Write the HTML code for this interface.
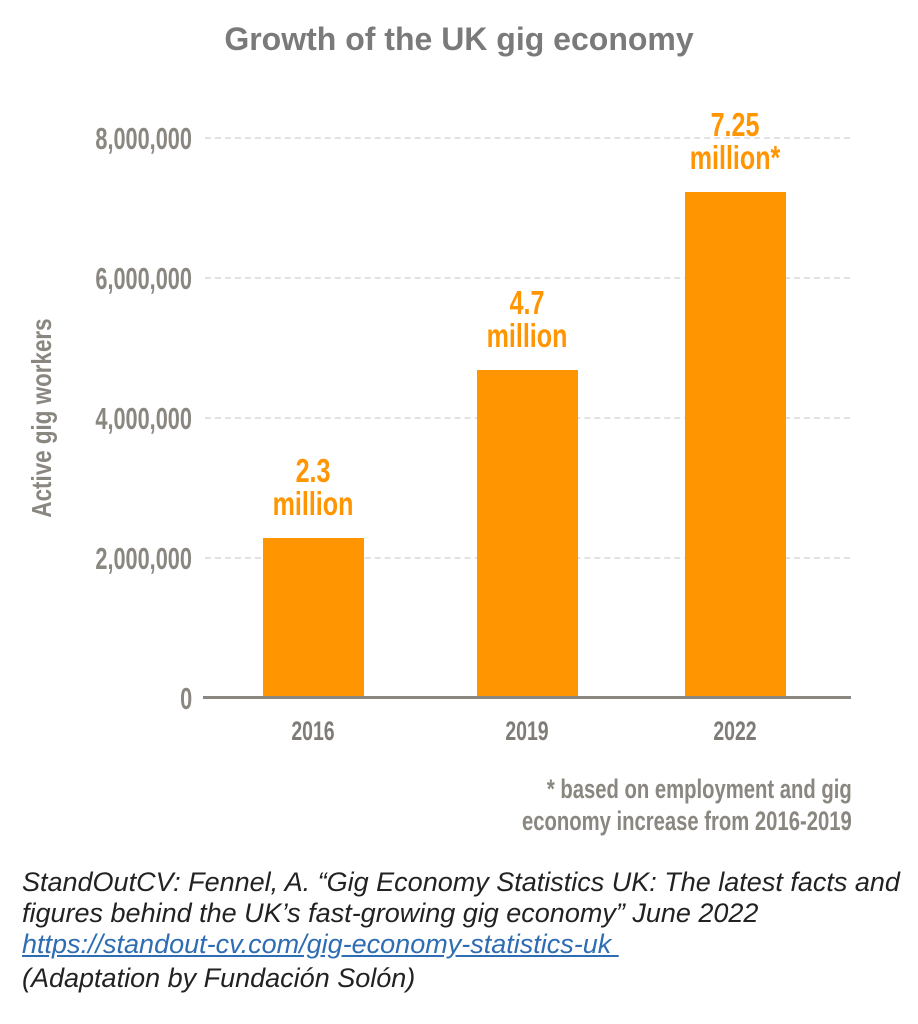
<!DOCTYPE html>
<html><head><meta charset="utf-8"><style>
body{margin:0;width:918px;height:1024px;background:#fff;position:relative;overflow:hidden;font-family:"Liberation Sans",sans-serif}
.a{position:absolute}
.grid{position:absolute;left:205px;width:645px;border-top:2px dashed #e2e2e2;height:0}
.yl{position:absolute;right:726px;font-size:31px;font-weight:bold;color:#8a8680;line-height:1;transform:scaleX(0.7);transform-origin:right center}
.bar{position:absolute;background:#ff9500;width:101px}
.lab{position:absolute;color:#ff9500;font-size:33px;font-weight:bold;text-align:center;line-height:33px;width:200px;transform:scaleX(0.76)}
.xl{position:absolute;color:#7f7b76;font-size:27px;font-weight:bold;width:200px;text-align:center;top:716px;transform:scaleX(0.72)}
.src{position:absolute;left:22px;font-style:italic;font-size:27px;color:#222;white-space:nowrap}
</style></head><body>
<div class="a" style="left:0;width:918px;top:21px;text-align:center;font-weight:900;font-size:32px;color:#7a7a7a">Growth of the UK gig economy</div>
<div class="grid" style="top:137px"></div>
<div class="grid" style="top:277px"></div>
<div class="grid" style="top:417px"></div>
<div class="grid" style="top:557px"></div>
<div class="yl" style="top:123px">8,000,000</div>
<div class="yl" style="top:263px">6,000,000</div>
<div class="yl" style="top:403px">4,000,000</div>
<div class="yl" style="top:543px">2,000,000</div>
<div class="yl" style="top:683px">0</div>
<div class="a" style="left:42px;top:418px;transform:translate(-50%,-50%) rotate(-90deg) scaleX(0.8);font-size:28px;font-weight:bold;color:#8a8680;white-space:nowrap">Active gig workers</div>
<div class="bar" style="left:263px;top:538px;height:160px"></div>
<div class="bar" style="left:477px;top:370px;height:328px"></div>
<div class="bar" style="left:685px;top:192px;height:506px"></div>
<div class="a" style="left:203px;top:696px;width:648px;height:3px;background:#8a8680"></div>
<div class="lab" style="left:213px;top:454px">2.3<br>million</div>
<div class="lab" style="left:427px;top:286px">4.7<br>million</div>
<div class="lab" style="left:635px;top:108px">7.25<br>million*</div>
<div class="xl" style="left:213px">2016</div>
<div class="xl" style="left:427px">2019</div>
<div class="xl" style="left:635px">2022</div>
<div class="a" style="right:66px;top:773px;text-align:right;font-size:27px;font-weight:bold;line-height:32px;color:#8a8680;transform:scaleX(0.75);transform-origin:right center">* based on employment and gig<br>economy increase from 2016-2019</div>
<div class="src" style="top:867px">StandOutCV: Fennel, A. “Gig Economy Statistics UK: The latest facts and</div>
<div class="src" style="top:898px">figures behind the UK’s fast-growing gig economy” June 2022</div>
<div class="src" style="top:929px;color:#2e6db4;text-decoration:underline">https://standout-cv.com/gig-economy-statistics-uk&nbsp;</div>
<div class="src" style="top:963px">(Adaptation by Fundación Solón)</div>
</body></html>
